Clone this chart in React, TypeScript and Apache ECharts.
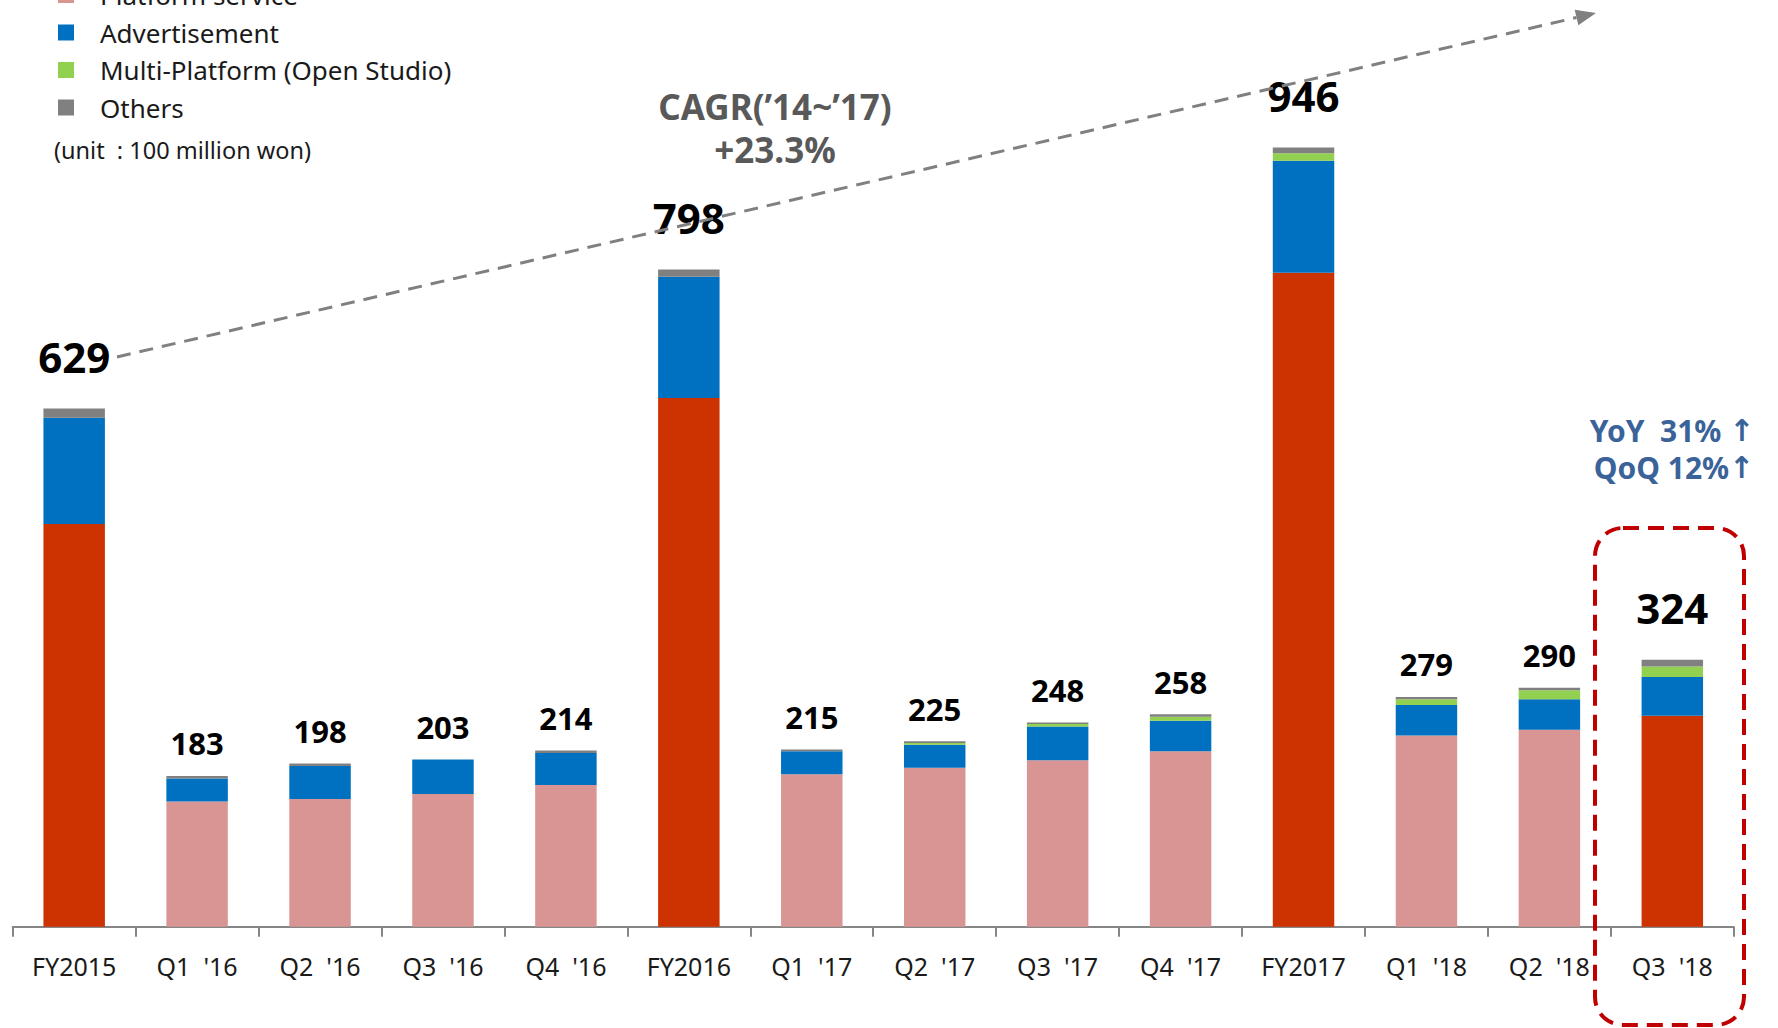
import React, { useEffect, useRef } from "react";
import * as echarts from "echarts";

const categories = [
  "FY2015", "Q1  '16", "Q2  '16", "Q3  '16", "Q4  '16", "FY2016",
  "Q1  '17", "Q2  '17", "Q3  '17", "Q4  '17", "FY2017", "Q1  '18", "Q2  '18", "Q3  '18",
];
const platformService = [489, 152, 155, 161, 172, 642, 185, 193, 202, 213, 794, 232, 239, 256];
const advertisement = [129, 28, 40, 42, 39, 147, 28, 28, 41, 37, 136, 37, 37, 47];
const multiPlatform = [0, 0, 0, 0, 0, 0, 0, 2, 3, 5, 9, 7, 11, 13];
const others = [11, 3, 3, 0, 3, 9, 2, 2, 2, 3, 7, 3, 3, 8];
const totals = [629, 183, 198, 203, 214, 798, 215, 225, 248, 258, 946, 279, 290, 324];

const FONT = '"Noto Sans", "Open Sans", sans-serif';
const RED = "#CC3300";
const PINK = "#D99594";
const BLUE = "#0070C0";
const GREEN = "#92D050";
const GRAY = "#808080";
const STEEL = "#3A6399";

const isBig = (i: number) => categories[i].startsWith("FY") || i === categories.length - 1;

export default function App() {
  const ref = useRef<HTMLDivElement>(null);
  useEffect(() => {
    if (!ref.current) return;
    const chart = echarts.init(ref.current, null, { renderer: "svg" });

    // arrow geometry
    const x1 = 117, y1 = 357, tx = 1596, ty = 13;
    const dx = tx - x1, dy = ty - y1;
    const len = Math.sqrt(dx * dx + dy * dy);
    const ux = dx / len, uy = dy / len;
    const headLen = 20, headHalf = 8;
    const bx = tx - ux * headLen, by = ty - uy * headLen;
    const px = -uy, py = ux;

    const growthStyle = {
      fontSize: 30,
      fontWeight: "bold",
      fontFamily: FONT,
      fill: STEEL,
      align: "center",
      verticalAlign: "middle",
      rich: {
        arr: {
          fontSize: 30,
          fontWeight: "bold",
          fontFamily: '"DejaVu Sans", sans-serif',
          fill: STEEL,
          color: STEEL,
        },
      },
    };

    chart.setOption({
      animation: false,
      grid: { left: 12.7, right: 44.2, top: 103, bottom: 101.3 },
      legend: {
        data: ["Platform service", "Advertisement", "Multi-Platform (Open Studio)", "Others"],
        orient: "vertical",
        left: 58,
        top: -18,
        padding: 0,
        itemWidth: 16,
        itemHeight: 16,
        itemGap: 11.5,
        icon: "rect",
        selectedMode: false,
        textStyle: {
          fontSize: 26,
          lineHeight: 26,
          fontFamily: FONT,
          color: "#1a1a1a",
          padding: [0, 0, 0, 21],
        },
      },
      xAxis: {
        type: "category",
        data: categories,
        axisLine: { lineStyle: { color: "#868686", width: 2 } },
        axisTick: { show: true, length: 10, lineStyle: { color: "#868686", width: 2 } },
        axisLabel: { fontSize: 25, fontFamily: FONT, color: "#1a1a1a", margin: 27 },
      },
      yAxis: {
        type: "value",
        min: 0,
        max: 1000,
        show: false,
        splitLine: { show: false },
      },
      series: [
        {
          name: "Platform service",
          type: "bar",
          stack: "total",
          barWidth: "50%",
          itemStyle: { color: PINK },
          data: platformService.map((v, i) => ({
            value: v,
            itemStyle: { color: isBig(i) ? RED : PINK },
          })),
        },
        {
          name: "Advertisement",
          type: "bar",
          stack: "total",
          barWidth: "50%",
          itemStyle: { color: BLUE },
          data: advertisement,
        },
        {
          name: "Multi-Platform (Open Studio)",
          type: "bar",
          stack: "total",
          barWidth: "50%",
          itemStyle: { color: GREEN },
          data: multiPlatform,
        },
        {
          name: "Others",
          type: "bar",
          stack: "total",
          barWidth: "50%",
          itemStyle: { color: GRAY },
          data: others,
        },
        {
          name: "Total",
          type: "bar",
          barWidth: "50%",
          barGap: "-100%",
          z: 1,
          itemStyle: { color: "transparent" },
          silent: true,
          data: totals.map((v, i) => ({
            value: v,
            label: {
              show: true,
              position: "top",
              fontSize: isBig(i) ? 42 : 31,
              distance: isBig(i) ? 31 : 17,
              fontWeight: "bold",
              fontFamily: FONT,
              color: "#000",
            },
          })),
        },
      ],
      graphic: [
        {
          type: "line",
          shape: { x1, y1, x2: bx, y2: by },
          style: { stroke: GRAY, lineWidth: 3, lineDash: [14, 9] },
          z: 100,
        },
        {
          type: "polygon",
          shape: {
            points: [
              [tx, ty],
              [bx + px * headHalf, by + py * headHalf],
              [bx - px * headHalf, by - py * headHalf],
            ],
          },
          style: { fill: GRAY },
          z: 100,
        },
        {
          type: "text",
          x: 54,
          y: 150,
          style: {
            text: "(unit  : 100 million won)",
            fontSize: 23.5,
            fontFamily: FONT,
            fill: "#1a1a1a",
            align: "left",
            verticalAlign: "middle",
          },
        },
        {
          type: "text",
          x: 775,
          y: 106,
          style: {
            text: "CAGR(\u201914~\u201917)",
            fontSize: 35,
            fontWeight: "bold",
            fontFamily: FONT,
            fill: "#595959",
            align: "center",
            verticalAlign: "middle",
          },
        },
        {
          type: "text",
          x: 775,
          y: 149,
          style: {
            text: "+23.3%",
            fontSize: 35,
            fontWeight: "bold",
            fontFamily: FONT,
            fill: "#595959",
            align: "center",
            verticalAlign: "middle",
          },
        },
        {
          type: "text",
          x: 1672,
          y: 430,
          style: { ...growthStyle, text: "YoY  31% {arr|\u2191}" },
        },
        {
          type: "text",
          x: 1674,
          y: 467,
          style: { ...growthStyle, text: "QoQ 12%{arr|\u2191}" },
        },
        {
          type: "rect",
          shape: { x: 1595, y: 528, width: 149, height: 497, r: 28 },
          style: { fill: "none", stroke: "#C00000", lineWidth: 4, lineDash: [16, 9] },
          z: 100,
        },
      ],
    });
    return () => chart.dispose();
  }, []);
  return (
    <div
      ref={ref}
      style={{ position: "fixed", left: 0, top: 0, width: 1778, height: 1028, background: "#fff" }}
    />
  );
}
